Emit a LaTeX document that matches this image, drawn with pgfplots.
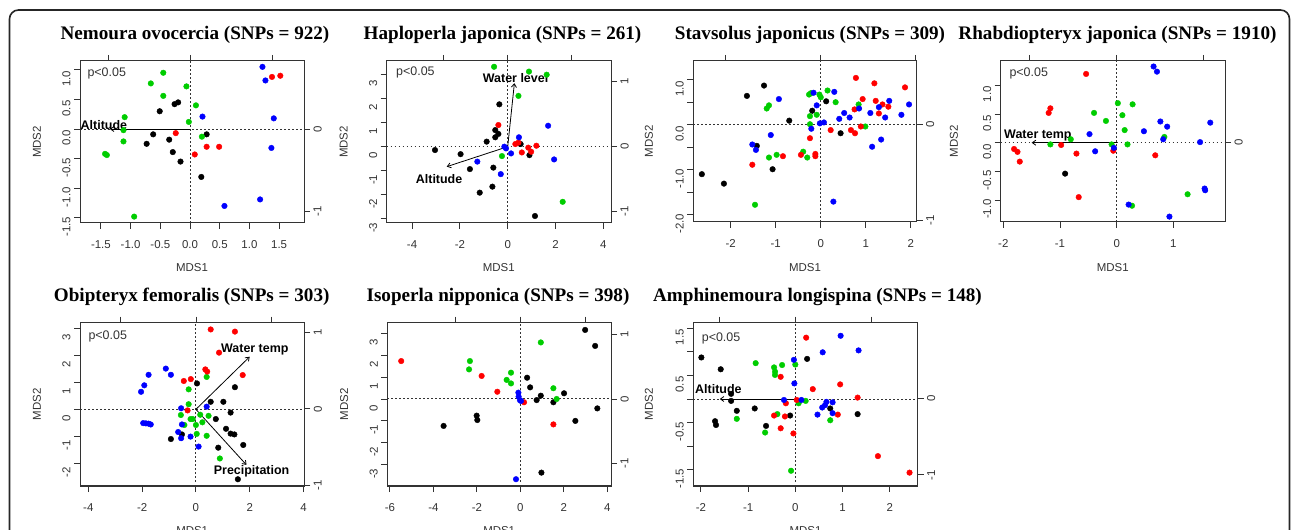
\documentclass[border=0pt]{standalone}
\usepackage{fontspec}
\setmainfont{Liberation Serif}
\setsansfont{Liberation Sans}
\usepackage{pgfplots}
\pgfplotsset{compat=1.18}
\usetikzlibrary{arrows.meta}
\definecolor{rr}{HTML}{FF0000}
\definecolor{bb}{HTML}{0000FF}
\definecolor{gg}{HTML}{00CD00}
\definecolor{ax}{HTML}{333333}
\newcommand\tl{\sffamily\fontsize{11.5}{12}\selectfont}
\newcommand\pl{\sffamily\fontsize{12.5}{13}\selectfont}
\newcommand\al{\sffamily\bfseries\fontsize{12.5}{13}\selectfont}
\newcommand\tf{\rmfamily\bfseries\fontsize{19.2}{20}\selectfont}
\pgfplotsset{
  mds/.style={scale only axis, anchor=south west, clip=false,
    axis line style={line width=1bp, ax}, tick style={line width=0.9bp, ax},
    tick align=outside, major tick length=6bp,
    xtick pos=left, ytick pos=left,
    ticklabel style={font=\tl, text=ax},
    xticklabel style={yshift=-8bp},
    yticklabel style={rotate=90, anchor=south, xshift=-9bp},
    /pgf/number format/assume math mode=true},
  sec/.style={scale only axis, anchor=south west, clip=false,
    axis line style={line width=1bp, ax}, tick style={line width=0.9bp, ax},
    tick align=outside, major tick length=6bp,
    xtick pos=right, ytick pos=right, yticklabel pos=right,
    ticklabel style={font=\tl, text=ax},
    yticklabel style={rotate=90, anchor=north},
    /pgf/number format/assume math mode=true},
  pt/.style={only marks, mark=*, mark size=2.8bp, mark options={draw=#1, fill=#1}},
}
\tikzset{zl/.style={line width=1bp, ax, dash pattern=on 1.5bp off 2.5bp},
  arr/.style={line width=0.8bp, black, -{Straight Barb[length=3.5bp, width=5bp]}},
  lab/.style={font=\tl, text=ax},
  vlab/.style={font=\tl, text=ax, rotate=90},
  pv/.style={font=\pl, text=ax, anchor=west}}
\begin{document}
\begin{tikzpicture}
\useasboundingbox (0bp,0bp) rectangle (1292bp,530bp);
\draw[line width=1.6bp, black!85, rounded corners=9bp] (9.5bp,-20bp) -- (9.5bp,520bp) -- (1289.5bp,520bp) -- (1289.5bp,-20bp);

% ---------- Panel 1
\begin{axis}[sec, at={(80bp,307bp)}, width=224bp, height=162bp, xmin=-1.341, xmax=1.39, ymin=-1.146, ymax=0.829,
  xtick={-1,0,1}, xticklabels={,,}, ytick={-1,0}, yticklabels={-1,0}]
\end{axis}
\begin{axis}[mds, at={(80bp,307bp)}, width=224bp, height=162bp, xmin=-1.852, xmax=1.919, ymin=-1.588, ymax=1.149,
  xtick={-1.5,-1,-0.5,0,0.5,1,1.5}, xticklabels={-1.5,-1.0,-0.5,0.0,0.5,1.0,1.5},
  ytick={-1.5,-1,-0.5,0,0.5,1}, yticklabels={-1.5,-1.0,-0.5,0.0,0.5,1.0}]
\draw[zl] (axis cs:0,-1.588) -- (axis cs:0,1.149);
\draw[zl] (axis cs:-1.852,0) -- (axis cs:1.919,0);
\addplot[pt=black] coordinates {(-0.51,0.30) (-0.26,0.42) (-0.20,0.45) (-0.62,-0.09) (-0.73,-0.25) (-0.35,-0.18) (-0.29,-0.39) (-0.16,-0.55) (0.19,-0.81) (0.28,-0.09)};
\addplot[pt=gg] coordinates {(-0.45,0.95) (-0.66,0.77) (-0.45,0.56) (-0.06,0.72) (0.10,0.40) (-0.02,0.12) (-1.10,0.20) (-1.12,-0.02) (-1.12,-0.21) (-1.43,-0.42) (-1.40,-0.44) (0.20,-0.13) (-0.94,-1.48)};
\addplot[pt=rr] coordinates {(1.38,0.88) (1.52,0.90) (-0.24,-0.07) (0.28,-0.30) (0.49,-0.30) (0.08,-0.43)};
\addplot[pt=bb] coordinates {(1.22,1.05) (1.27,0.82) (1.41,0.18) (1.37,-0.32) (0.21,0.21) (0.58,-1.30) (1.18,-1.19)};
\draw[arr] (axis cs:0,0) -- (axis cs:-1.35,0);
\node[font=\al] at (axis cs:-1.45,0.07) {Altitude};
\end{axis}

% ---------- Panel 2
\begin{axis}[sec, at={(386.7bp,307bp)}, width=224.3bp, height=162bp, xmin=-1.89, xmax=1.61, ymin=-1.174, ymax=1.318,
  xtick={-1,0,1}, xticklabels={,,}, ytick={-1,0,1}, yticklabels={-1,0,1}]
\end{axis}
\begin{axis}[mds, at={(386.7bp,307bp)}, width=224.3bp, height=162bp, xmin=-5.06, xmax=4.32, ymin=-3.17, ymax=3.56,
  xtick={-4,-2,0,2,4}, xticklabels={-4,-2,0,2,4},
  ytick={-3,-2,-1,0,1,2,3}, yticklabels={-3,-2,-1,0,1,2,3}]
\draw[zl] (axis cs:0,-3.17) -- (axis cs:0,3.56);
\draw[zl] (axis cs:-5.06,0) -- (axis cs:4.32,0);
\addplot[pt=black] coordinates {(-0.35,1.76) (-0.52,0.69) (-0.39,0.53) (-0.52,0.39) (-0.88,0.21) (-3.04,-0.14) (-1.97,-0.31) (-1.58,-0.93) (-0.60,-0.87) (-0.64,-1.66) (-1.17,-1.91) (0.91,-0.35) (1.14,-2.88) (0.54,0.11)};
\addplot[pt=gg] coordinates {(-0.57,3.32) (0.89,3.12) (1.63,2.99) (0.45,2.11) (-0.24,-0.39) (2.30,-2.29)};
\addplot[pt=rr] coordinates {(-0.39,0.90) (0.32,0.11) (0.45,0.17) (0.86,-0.04) (0.98,-0.21) (0.59,-0.24) (1.20,0.04)};
\addplot[pt=bb] coordinates {(1.69,0.87) (0.47,0.39) (-0.14,0) (-0.07,-0.07) (0.14,-0.28) (-1.27,-0.62) (-0.29,-1.14) (1.94,-0.53)};
\draw[arr] (axis cs:0,0) -- (axis cs:0.28,2.64);
\draw[arr] (axis cs:0,0) -- (axis cs:-2.55,-0.83);
\node[font=\al] at (axis cs:0.33,2.84) {Water level};
\node[font=\al] at (axis cs:-2.87,-1.34) {Altitude};
\end{axis}

% ---------- Panel 3
\begin{axis}[sec, at={(693.3bp,308.3bp)}, width=223.4bp, height=160.7bp, xmin=-1.341, xmax=1.01, ymin=-1.018, ymax=0.668,
  xtick={-1,0,1}, xticklabels={,,}, ytick={-1,0}, yticklabels={-1,0}]
\end{axis}
\begin{axis}[mds, at={(693.3bp,308.3bp)}, width=223.4bp, height=160.7bp, xmin=-2.83, xmax=2.13, ymin=-2.156, ymax=1.416,
  xtick={-2,-1,0,1,2}, xticklabels={-2,-1,0,1,2},
  ytick={-2,-1.5,-1,-0.5,0,0.5,1}, yticklabels={-2.0,,-1.0,,0.0,,1.0}]
\draw[zl] (axis cs:0,-2.156) -- (axis cs:0,1.416);
\draw[zl] (axis cs:-2.83,0) -- (axis cs:2.13,0);
\addplot[pt=black] coordinates {(-1.26,0.87) (-1.64,0.64) (-0.70,0.09) (-0.19,0.31) (0.12,0.52) (-1.42,-0.47) (-1.07,-0.99) (-2.64,-1.10) (-2.15,-1.31) (0.44,-0.19)};
\addplot[pt=gg] coordinates {(-1.20,0.36) (-1.15,0.43) (-0.26,0.67) (-0.22,0.70) (-0.03,0.67) (0,0.61) (0.15,0.76) (0.33,0.50) (0.84,0.45) (-0.24,0.19) (-0.09,0.22) (-0.24,0.01) (-1.15,-0.73) (-0.98,-0.67) (-0.39,-0.60) (-0.30,-0.73) (-1.46,-1.78) (0.99,-0.04)};
\addplot[pt=rr] coordinates {(0.78,1.04) (1.19,0.92) (1.87,0.83) (0.93,0.57) (1.22,0.53) (0.75,0.34) (1.37,0.45) (1.50,0.40) (1.29,0.25) (0.22,-0.12) (0.67,-0.12) (0.76,-0.19) (0.89,-0.04) (-0.24,-0.30) (-0.44,-0.67) (-0.12,-0.65) (-0.12,-0.70) (-0.84,-0.70) (-1.52,-0.89)};
\addplot[pt=bb] coordinates {(-0.93,0.57) (-0.16,0.71) (0.30,0.73) (-0.09,0.43) (-0.21,-0.09) (-1.11,-0.23) (-1.52,-0.44) (-1.44,-0.56) (-0.02,0.03) (0.07,0.05) (0.52,0.26) (0.41,0.13) (0.64,0.16) (0.85,0.36) (1.10,0.26) (1.29,0.39) (1.52,0.53) (1.43,0.16) (1.96,0.45) (1.79,0.22) (1.14,-0.49) (1.34,-0.33) (0.28,-1.71)};
\end{axis}

% ---------- Panel 4
\begin{axis}[sec, at={(1000.7bp,308bp)}, width=224.3bp, height=161bp, xmin=-1.333, xmax=1.245, ymin=-0.91, ymax=0.94,
  xtick={-1,0,1}, xticklabels={,,}, ytick={0}, yticklabels={0}]
\end{axis}
\begin{axis}[mds, at={(1000.7bp,308bp)}, width=224.3bp, height=161bp, xmin=-2.046, xmax=1.91, ymin=-1.384, ymax=1.426,
  xtick={-2,-1,0,1}, xticklabels={-2,-1,0,1},
  ytick={-1,-0.5,0,0.5,1}, yticklabels={-1.0,-0.5,0.0,0.5,1.0}]
\draw[zl] (axis cs:0,-1.384) -- (axis cs:0,1.426);
\draw[zl] (axis cs:-2.046,0) -- (axis cs:1.91,0);
\addplot[pt=black] coordinates {(-0.91,-0.54)};
\addplot[pt=gg] coordinates {(0.02,0.69) (0.28,0.67) (-0.40,0.52) (-0.19,0.38) (0.10,0.48) (0.14,0.22) (0.84,0.10) (-0.81,0.06) (-1.17,-0.03) (-0.09,-0.03) (0.19,-0.03) (1.25,-0.90) (0.27,-1.10)};
\addplot[pt=rr] coordinates {(-0.54,1.20) (-1.17,0.60) (-1.20,0.52) (-1.81,-0.11) (-1.75,-0.16) (-1.71,-0.33) (-0.98,-0.04) (-0.71,-0.19) (-0.67,-0.95) (-0.06,-0.14) (0.68,-0.22)};
\addplot[pt=bb] coordinates {(0.65,1.33) (0.71,1.24) (0.77,0.37) (0.89,0.28) (0.48,0.20) (0.82,0.06) (1.65,0.35) (1.47,0.01) (1.55,-0.80) (1.56,-0.83) (-0.48,0.15) (-0.38,-0.15) (-0.05,-0.09) (0.21,-1.08) (0.93,-1.29)};
\draw[arr] (axis cs:0,0) -- (axis cs:-1.5,0);
\node[font=\al] at (axis cs:-1.39,0.13) {Water temp};
\end{axis}

% ---------- Panel 5
\begin{axis}[sec, at={(80bp,44bp)}, width=224.3bp, height=163.3bp, xmin=-1.536, xmax=1.434, ymin=-1.01, ymax=1.129,
  xtick={-1,0,1}, xticklabels={,,}, ytick={-1,0,1}, yticklabels={-1,0,1}]
\end{axis}
\begin{axis}[mds, at={(80bp,44bp)}, width=224.3bp, height=163.3bp, xmin=-4.31, xmax=4.03, ymin=-2.84, ymax=3.21,
  xtick={-4,-2,0,2,4}, xticklabels={-4,-2,0,2,4},
  ytick={-2,-1,0,1,2,3}, yticklabels={-2,-1,0,1,2,3}]
\draw[zl] (axis cs:0,-2.84) -- (axis cs:0,3.21);
\draw[zl] (axis cs:-4.31,0) -- (axis cs:4.03,0);
\addplot[pt=black] coordinates {(0.04,0.96) (0.55,0.28) (1.02,0.28) (1.45,0.82) (0.74,-0.36) (1.29,-0.12) (1.12,-0.72) (1.29,-0.90) (1.43,-0.93) (1.76,-1.32) (0.83,-1.42) (-0.52,-0.93) (-0.93,-1.10) (1.56,-2.59)};
\addplot[pt=gg] coordinates {(0.40,1.20) (-0.27,0.74) (-0.27,0.19) (-0.56,-0.21) (-0.20,-0.36) (-0.12,-0.36) (-0.43,-0.58) (0,-0.58) (0.16,-0.20) (0.24,-0.48) (0.47,-0.24) (0.03,-0.91) (0.40,-0.98) (0.89,-1.82)};
\addplot[pt=rr] coordinates {(0.55,2.96) (1.45,2.88) (0.86,2.10) (1.74,1.27) (0.35,1.48) (0.42,1.40) (-0.45,1.05) (-0.19,1.12) (-0.31,-0.04)};
\addplot[pt=bb] coordinates {(-1.12,1.51) (-0.93,1.28) (-1.76,1.28) (-1.92,0.89) (-2.04,0.65) (-0.55,0.04) (0.40,0.10) (-1.96,-0.51) (-1.86,-0.52) (-1.76,-0.53) (-1.68,-0.56) (-0.52,-0.56) (-0.66,-0.84) (-0.55,-1.07) (-0.20,-1.01) (0.10,-1.38)};
\draw[arr] (axis cs:0,0) -- (axis cs:2.0,1.95);
\draw[arr] (axis cs:0,0) -- (axis cs:1.88,-2.06);
\node[font=\al] at (axis cs:2.19,2.23) {Water temp};
\node[font=\al] at (axis cs:2.07,-2.30) {Precipitation};
\end{axis}

% ---------- Panel 6
\begin{axis}[sec, at={(387.3bp,44bp)}, width=223.7bp, height=163.3bp, xmin=-2.046, xmax=1.395, ymin=-1.349, ymax=1.183,
  xtick={-1,0,1}, xticklabels={,,}, ytick={-1,0,1}, yticklabels={-1,0,1}]
\end{axis}
\begin{axis}[mds, at={(387.3bp,44bp)}, width=223.7bp, height=163.3bp, xmin=-6.12, xmax=4.17, ymin=-3.97, ymax=3.48,
  xtick={-6,-4,-2,0,2,4}, xticklabels={-6,-4,-2,0,2,4},
  ytick={-3,-2,-1,0,1,2,3}, yticklabels={-3,-2,-1,0,1,2,3}]
\draw[zl] (axis cs:0,-3.97) -- (axis cs:0,3.48);
\draw[zl] (axis cs:-6.12,0) -- (axis cs:4.17,0);
\addplot[pt=black] coordinates {(2.98,3.15) (3.44,2.42) (0.31,0.97) (0.45,0.53) (0.94,0.15) (0.75,-0.05) (1.52,-0.15) (2.01,0.26) (3.54,-0.43) (2.53,-1.00) (-2.01,-0.76) (-1.98,-0.96) (-3.53,-1.23) (0.97,-3.36)};
\addplot[pt=gg] coordinates {(-2.32,1.73) (-2.36,1.35) (-0.43,1.20) (-0.63,0.87) (-0.43,0.71) (0.94,2.58) (1.52,0.49) (1.67,0)};
\addplot[pt=rr] coordinates {(-5.48,1.73) (-1.78,1.05) (-1.06,0.33) (0.17,-0.15) (1.52,-1.16)};
\addplot[pt=bb] coordinates {(-0.09,0.29) (-0.08,0.11) (-0.02,-0.05) (0.03,-0.09) (-0.20,-3.66)};
\end{axis}

% ---------- Panel 7
\begin{axis}[sec, at={(693.3bp,44bp)}, width=224.4bp, height=163.3bp, xmin=-1.346, xmax=1.615, ymin=-1.145, ymax=0.99,
  xtick={-1,0,1}, xticklabels={,,}, ytick={-1,0}, yticklabels={-1,0}]
\end{axis}
\begin{axis}[mds, at={(693.3bp,44bp)}, width=224.4bp, height=163.3bp, xmin=-2.161, xmax=2.593, ymin=-1.843, ymax=1.617,
  xtick={-2,-1,0,1,2}, xticklabels={-2,-1,0,1,2},
  ytick={-1.5,-1,-0.5,0,0.5,1,1.5}, yticklabels={-1.5,,-0.5,,0.5,,1.5}]
\draw[zl] (axis cs:0,-1.843) -- (axis cs:0,1.617);
\draw[zl] (axis cs:-2.161,0) -- (axis cs:2.593,0);
\addplot[pt=black] coordinates {(-1.99,0.88) (-1.58,0.63) (-1.36,0.11) (-1.36,-0.04) (-1.24,-0.25) (-0.86,-0.20) (-0.11,-0.35) (-0.62,-0.57) (-1.70,-0.47) (-1.68,-0.55) (0.25,0.85) (0.74,-0.20) (1.32,-0.32)};
\addplot[pt=gg] coordinates {(-0.84,0.76) (-0.45,0.67) (-0.43,0.58) (-0.43,0.51) (-0.28,0.72) (0,0.73) (0.07,-0.09) (0.22,-0.04) (-1.24,-0.42) (-0.38,-0.32) (-0.64,-0.71) (0.74,-0.45) (-0.09,-1.52)};
\addplot[pt=rr] coordinates {(0.23,1.30) (-0.31,0.47) (0.37,0.21) (0.95,0.31) (1.32,0.03) (0.03,-0.02) (-0.20,-0.09) (-0.45,-0.35) (-0.22,-0.37) (-0.31,-0.62) (-0.04,-0.73) (0.90,-0.33) (1.75,-1.21) (2.42,-1.56)};
\addplot[pt=bb] coordinates {(0.96,1.34) (1.34,1.03) (0.58,0.99) (-0.03,0.83) (-0.02,0.33) (-0.24,-0.02) (0.13,-0.02) (0.66,-0.06) (0.63,-0.13) (0.57,-0.18) (0.79,-0.07) (0.47,-0.33) (0.79,-0.30)};
\draw[arr] (axis cs:0,0) -- (axis cs:-1.6,0);
\node[font=\al] at (axis cs:-1.63,0.21) {Altitude};
\end{axis}

% ---------- titles and labels
\node[font=\tf, anchor=base] at (195bp,490bp) {Nemoura ovocercia (SNPs = 922)};
\node[font=\tf, anchor=base] at (502.5bp,490bp) {Haploperla japonica (SNPs = 261)};
\node[font=\tf, anchor=base] at (810bp,490bp) {Stavsolus japonicus (SNPs = 309)};
\node[font=\tf, anchor=base] at (1117.5bp,490bp) {Rhabdiopteryx japonica (SNPs = 1910)};
\node[font=\tf, anchor=base] at (191.7bp,228bp) {Obipteryx femoralis (SNPs = 303)};
\node[font=\tf, anchor=base] at (498bp,228bp) {Isoperla nipponica (SNPs = 398)};
\node[font=\tf, anchor=base] at (817.5bp,228bp) {Amphinemoura longispina (SNPs = 148)};

\node[pv] at (84bp,457bp) {p<0.05};
\node[pv] at (392.7bp,458bp) {p<0.05};
\node[pv] at (1006bp,457bp) {p<0.05};
\node[pv] at (85bp,193.3bp) {p<0.05};
\node[pv] at (698.3bp,192bp) {p<0.05};

\node[lab] at (192bp,262bp) {MDS1};
\node[lab] at (498.8bp,262bp) {MDS1};
\node[lab] at (805bp,262bp) {MDS1};
\node[lab] at (1112.8bp,262bp) {MDS1};
\node[lab] at (192.2bp,-1bp) {MDS1};
\node[lab] at (499.2bp,-1bp) {MDS1};
\node[lab] at (805.5bp,-1bp) {MDS1};
\node[vlab] at (37bp,388bp) {MDS2};
\node[vlab] at (343.7bp,388bp) {MDS2};
\node[vlab] at (649bp,388.5bp) {MDS2};
\node[vlab] at (954bp,388.7bp) {MDS2};
\node[vlab] at (37bp,125.7bp) {MDS2};
\node[vlab] at (344.3bp,125.7bp) {MDS2};
\node[vlab] at (649bp,125.7bp) {MDS2};
\end{tikzpicture}
\end{document}
